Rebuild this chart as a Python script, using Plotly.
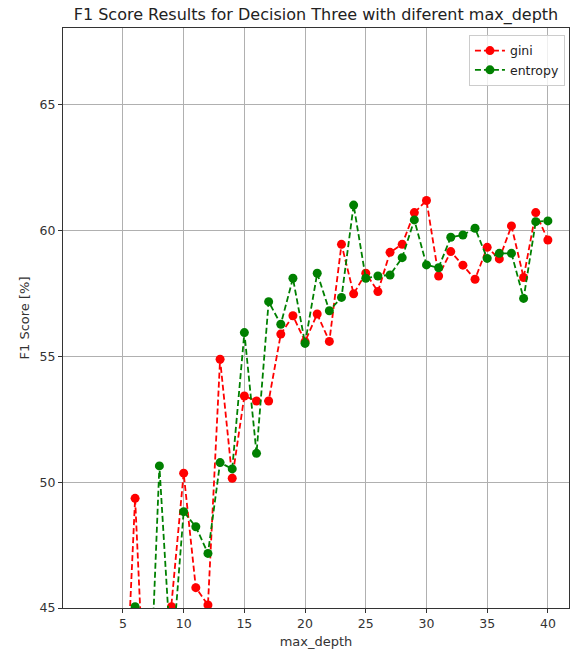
import plotly.graph_objects as go

max_depth = list(range(2, 41))

gini = [37.5, 38.2, 38.6, 38.9, 49.36, 38.9, 40.0, 45.05, 50.36, 45.81, 45.12,
        54.89, 50.16, 53.43, 53.23, 53.23, 55.89, 56.62, 55.59, 56.69, 55.6,
        59.46, 57.49, 58.31, 57.58, 59.14, 59.46, 60.72, 61.2, 58.2, 59.17,
        58.63, 58.07, 59.34, 58.88, 60.19, 58.14, 60.72, 59.63]

entropy = [37.0, 38.0, 38.8, 39.5, 45.05, 38.6, 50.65, 42.7, 48.83, 48.23, 47.17,
           50.78, 50.53, 55.95, 51.15, 57.18, 56.28, 58.11, 55.52, 58.31, 56.82,
           57.35, 61.02, 58.11, 58.2, 58.24, 58.93, 60.43, 58.64, 58.53, 59.74,
           59.83, 60.1, 58.9, 59.1, 59.1, 57.31, 60.36, 60.39]

x_ticks = [5, 10, 15, 20, 25, 30, 35, 40]
y_ticks = [45, 50, 55, 60, 65]

FONT = "DejaVu Sans"

fig = go.Figure()
fig.add_trace(go.Scatter(
    x=max_depth, y=gini, name="gini", mode="lines+markers",
    line=dict(color="#ff0000", width=1.8, dash="6px,3px"),
    marker=dict(color="#ff0000", size=9),
))
fig.add_trace(go.Scatter(
    x=max_depth, y=entropy, name="entropy", mode="lines+markers",
    line=dict(color="#008000", width=1.8, dash="6px,3px"),
    marker=dict(color="#008000", size=9),
))

axis_common = dict(
    showline=True, linecolor="#333333", linewidth=1, mirror=True,
    ticks="outside", ticklen=4, tickcolor="#333333", tickwidth=1,
    showgrid=True, gridcolor="#b0b0b0", gridwidth=0.8,
    zeroline=False, tickfont=dict(family=FONT, size=12.5, color="#333333"),
)

fig.update_layout(
    width=571, height=656,
    margin=dict(l=63, r=2, t=28, b=48),
    paper_bgcolor="white", plot_bgcolor="white",
    font=dict(family=FONT, color="#333333"),
    title=dict(text="F1 Score Results for Decision Three with diferent max_depth",
               x=(63 + 569) / 2 / 571, xanchor="center", y=1 - 14 / 656, yanchor="middle",
               font=dict(family=FONT, size=16, color="#222222")),
    xaxis=dict(range=[0.06, 41.74], tickvals=x_ticks,
               title=dict(text="max_depth", font=dict(family=FONT, size=13, color="#333333"), standoff=6),
               **axis_common),
    yaxis=dict(range=[45, 68.06], tickvals=y_ticks,
               title=dict(text="F1 Score [%]", font=dict(family=FONT, size=13, color="#333333"), standoff=7),
               **axis_common),
    legend=dict(x=0.992, y=0.988, xanchor="right", yanchor="top",
                bgcolor="rgba(255,255,255,0.8)", bordercolor="#cccccc", borderwidth=1,
                font=dict(family=FONT, size=12.5, color="#222222"),
                itemwidth=30, tracegroupgap=0),
    showlegend=True,
)

fig.write_html("out.html")
